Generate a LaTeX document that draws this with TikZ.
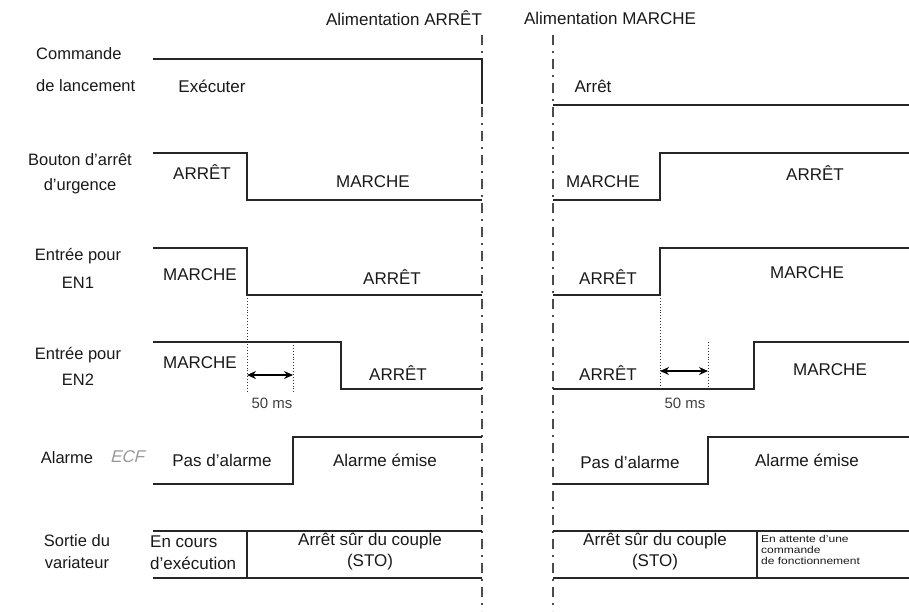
\documentclass[tikz,border=0pt]{standalone}
\usepackage{fontspec}
\usepackage{graphicx}
\setmainfont{Liberation Sans}
\usetikzlibrary{arrows.meta}
\begin{document}
\begin{tikzpicture}[x=1pt,y=-1pt,
  sig/.style={line width=1.2pt, draw=black!85, line join=miter},
  dd/.style={line width=1.3pt, draw=black!70, dash pattern=on 10pt off 6pt on 2pt off 6pt},
  dotv/.style={line width=0.9pt, draw=black!80, dotted},
  meas/.style={line width=1.1pt, draw=black, {Stealth[length=9pt,width=8pt]}-{Stealth[length=9pt,width=8pt]}},
  txt/.style={font=\fontsize{17}{20}\selectfont, inner sep=0pt, text=black!90},
  side/.style={font=\fontsize{16.5}{19}\selectfont, inner sep=0pt, text=black!90},
  ms/.style={font=\fontsize{15}{18}\selectfont, inner sep=0pt, text=black!75},
  small/.style={font=\fontsize{10}{10.8}\selectfont, inner sep=0pt, align=left, anchor=north west, text=black!90},
]
\useasboundingbox (0,0) rectangle (909,611);

% top labels
\node[txt] (topA) at (404,18) {Alimentation ARRÊT};
\node[txt] (topM) at (610,18) {Alimentation MARCHE};

% dash-dot power lines
\coordinate (pa1) at (482,35); \coordinate (pa2) at (482,611);
\coordinate (pm1) at (553,35); \coordinate (pm2) at (553,611);
\draw[dd] (pa1) -- (pa2);
\draw[dd] (pm1) -- (pm2);

% left labels
\node[side, anchor=west] (l1a) at (36,54) {Commande};
\node[side, anchor=west] (l1b) at (36,86) {de lancement};
\node[side] (l2a) at (80,160) {Bouton d’arrêt};
\node[side] (l2b) at (80,186) {d’urgence};
\node[side] (l3a) at (78,256) {Entrée pour};
\node[side] (l3b) at (78,283) {EN1};
\node[side] (l4a) at (78,355) {Entrée pour};
\node[side] (l4b) at (78,380) {EN2};
\node[side] (l5a) at (67,458) {Alarme};
\node[font=\fontsize{17}{19}\selectfont, inner sep=0pt, text=black!40] (l5b) at (127,457) {\addfontfeature{FakeSlant=0.25}ECF};
\node[side] (l6a) at (77,541) {Sortie du};
\node[side] (l6b) at (77,563) {variateur};

% Row 1: commande de lancement
\draw[sig] (153,59) -- (482,59) -- (482,104);
\draw[sig] (553,105) -- (909,105);
\node[txt] (r1a) at (212,86) {Exécuter};
\node[txt] (r1b) at (593,86) {Arrêt};

% Row 2: bouton d'arret d'urgence
\draw[sig] (153,153) -- (247,153) -- (247,200) -- (482,200);
\draw[sig] (553,200) -- (660,200) -- (660,153) -- (909,153);
\node[txt] (r2a) at (202,172) {ARRÊT};
\node[txt] (r2b) at (373,182) {MARCHE};
\node[txt] (r2c) at (603,182) {MARCHE};
\node[txt] (r2d) at (815,173) {ARRÊT};

% Row 3: EN1
\draw[sig] (153,248) -- (247,248) -- (247,295) -- (482,295);
\draw[sig] (553,295) -- (660,295) -- (660,248) -- (909,248);
\node[txt] (r3a) at (200,275) {MARCHE};
\node[txt] (r3b) at (392,277) {ARRÊT};
\node[txt] (r3c) at (608,277) {ARRÊT};
\node[txt] (r3d) at (807,273) {MARCHE};

% Row 4: EN2
\draw[sig] (153,342) -- (341,342) -- (341,389) -- (482,389);
\draw[sig] (553,389) -- (754,389) -- (754,342) -- (909,342);
\node[txt] (r4a) at (200,363) {MARCHE};
\node[txt] (r4b) at (398,373) {ARRÊT};
\node[txt] (r4c) at (608,373) {ARRÊT};
\node[txt] (r4d) at (830,370) {MARCHE};

% 50 ms measurements
\coordinate (dl1t) at (247,295); \coordinate (dl1b) at (247,392);
\coordinate (dl2t) at (293,342); \coordinate (dl2b) at (293,392);
\draw[dotv] (dl1t) -- (dl1b);
\draw[dotv] (dl2t) -- (dl2b);
\coordinate (al1) at (247,375); \coordinate (al2) at (293,375);
\draw[meas] (al1) -- (al2);
\node[ms] (msl) at (272,403) {50 ms};

\coordinate (dr1t) at (660,295); \coordinate (dr1b) at (660,389);
\coordinate (dr2t) at (708,342); \coordinate (dr2b) at (708,389);
\draw[dotv] (dr1t) -- (dr1b);
\draw[dotv] (dr2t) -- (dr2b);
\coordinate (ar1) at (660,371); \coordinate (ar2) at (708,371);
\draw[meas] (ar1) -- (ar2);
\node[ms] (msr) at (685,403) {50 ms};

% Row 5: alarme
\draw[sig] (153,484) -- (293,484) -- (293,437) -- (482,437);
\draw[sig] (553,484) -- (708,484) -- (708,437) -- (909,437);
\node[txt] (r5a) at (222,460) {Pas d’alarme};
\node[txt] (r5b) at (385,460) {Alarme émise};
\node[txt] (r5c) at (630,462) {Pas d’alarme};
\node[txt] (r5d) at (807,460) {Alarme émise};

% Row 6: sortie du variateur
\draw[sig] (153,531) -- (482,531);
\draw[sig] (153,578) -- (482,578);
\draw[sig] (247,531) -- (247,578);
\draw[sig] (553,531) -- (909,531);
\draw[sig] (553,578) -- (909,578);
\draw[sig] (757,531) -- (757,578);
\node[txt, anchor=west] (r6a) at (150,542) {En cours};
\node[txt, anchor=west] (r6b) at (150,563) {d’exécution};
\node[txt] (r6c) at (370,541) {Arrêt sûr du couple};
\node[txt] (r6d) at (370,562) {(STO)};
\node[txt] (r6e) at (655,541) {Arrêt sûr du couple};
\node[txt] (r6f) at (655,562) {(STO)};
\node[small] (r6g) at (761,535) {\scalebox{1.2}[1]{En attente d’une}\\\scalebox{1.2}[1]{commande}\\\scalebox{1.2}[1]{de fonctionnement}};
\end{tikzpicture}
\end{document}
